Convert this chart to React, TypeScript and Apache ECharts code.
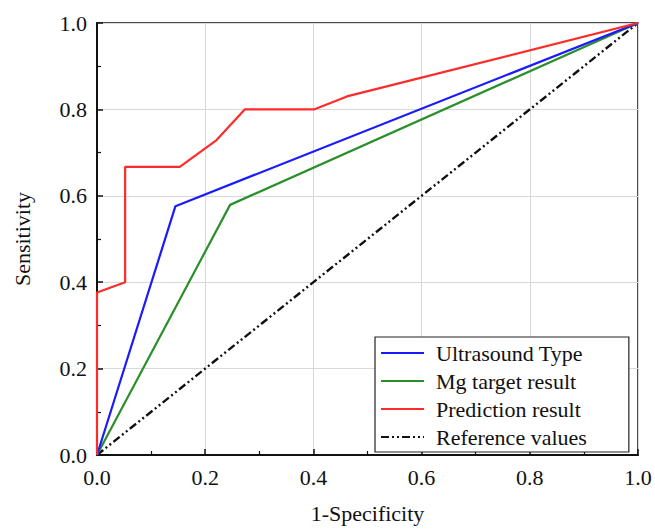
import React, { useEffect, useRef } from "react";
import * as echarts from "echarts";

const seriesNames = ["Ultrasound Type", "Mg target result", "Prediction result", "Reference values"];
const ultrasoundX = [0, 0.145, 1];
const ultrasoundY = [0, 0.576, 1];
const mgX = [0, 0.246, 1];
const mgY = [0, 0.579, 1];
const predX = [0, 0, 0.052, 0.052, 0.153, 0.221, 0.273, 0.401, 0.462, 1];
const predY = [0, 0.376, 0.4, 0.667, 0.667, 0.729, 0.8, 0.8, 0.83, 1];
const refX = [0, 1];
const refY = [0, 1];
const axisTicks = [0, 0.2, 0.4, 0.6, 0.8, 1.0];

const zip = (xs: number[], ys: number[]) => xs.map((x, i) => [x, ys[i]]);

const FONT = "Liberation Serif";

export default function App() {
  const ref = useRef<HTMLDivElement>(null);
  useEffect(() => {
    if (!ref.current) return;
    const chart = echarts.init(ref.current, null, { renderer: "svg" });
    const axisCommon = {
      type: "value" as const,
      min: axisTicks[0],
      max: axisTicks[axisTicks.length - 1],
      interval: 0.2,
      axisLine: { show: true, onZero: false, lineStyle: { color: "#111", width: 2 } },
      axisTick: { show: true, inside: true, length: 6, lineStyle: { color: "#111", width: 1.5 } },
      minorTick: { show: true, splitNumber: 2, length: 4, lineStyle: { color: "#111", width: 1.2 } },
      splitLine: { show: true, lineStyle: { color: "#d8d8d8", width: 1 } },
      axisLabel: {
        fontFamily: FONT,
        fontSize: 22,
        color: "#111",
        formatter: (v: number) => v.toFixed(1),
      },
      nameTextStyle: { fontFamily: FONT, fontSize: 22, color: "#111" },
      nameLocation: "middle" as const,
    };
    chart.setOption({
      animation: false,
      backgroundColor: "#fff",
      grid: {
        left: 97,
        right: 17,
        top: 23,
        bottom: 70,
        show: true,
        borderColor: "#111",
        borderWidth: 1.5,
        backgroundColor: "transparent",
      },
      xAxis: {
        ...axisCommon,
        name: "1-Specificity",
        nameGap: 47,
        axisLabel: { ...axisCommon.axisLabel, margin: 11 },
      },
      yAxis: {
        ...axisCommon,
        name: "Sensitivity",
        nameGap: 64,
        nameRotate: 90,
        axisLabel: { ...axisCommon.axisLabel, margin: 10 },
      },
      legend: {
        orient: "vertical",
        left: 375,
        top: 337,
        data: seriesNames,
        itemWidth: 43,
        itemHeight: 14,
        itemGap: 6,
        padding: [5, 42, 4, 5],
        borderColor: "#222",
        borderWidth: 1.2,
        backgroundColor: "#fff",
        itemStyle: { opacity: 0 },
        textStyle: { fontFamily: FONT, fontSize: 22, color: "#111", lineHeight: 22, padding: [0, 0, 0, 7] },
      },
      series: [
        {
          name: seriesNames[0],
          type: "line",
          data: zip(ultrasoundX, ultrasoundY),
          symbol: "none",
          lineStyle: { color: "#1a1aff", width: 2.2 },
          itemStyle: { color: "#1a1aff" },
          z: 3,
        },
        {
          name: seriesNames[1],
          type: "line",
          data: zip(mgX, mgY),
          symbol: "none",
          lineStyle: { color: "#2a8f2a", width: 2.2 },
          itemStyle: { color: "#2a8f2a" },
          z: 2,
        },
        {
          name: seriesNames[2],
          type: "line",
          data: zip(predX, predY),
          symbol: "none",
          lineStyle: { color: "#ff2a2a", width: 2.2 },
          itemStyle: { color: "#ff2a2a" },
          z: 4,
        },
        {
          name: seriesNames[3],
          type: "line",
          data: zip(refX, refY),
          symbol: "none",
          lineStyle: { color: "#111", width: 2.4, type: [8, 3, 2, 3, 2, 3] },
          itemStyle: { color: "#111" },
          z: 1,
        },
      ],
    });
    return () => chart.dispose();
  }, []);
  return <div ref={ref} style={{ width: 655, height: 529, position: "absolute", left: 0, top: 0 }} />;
}
